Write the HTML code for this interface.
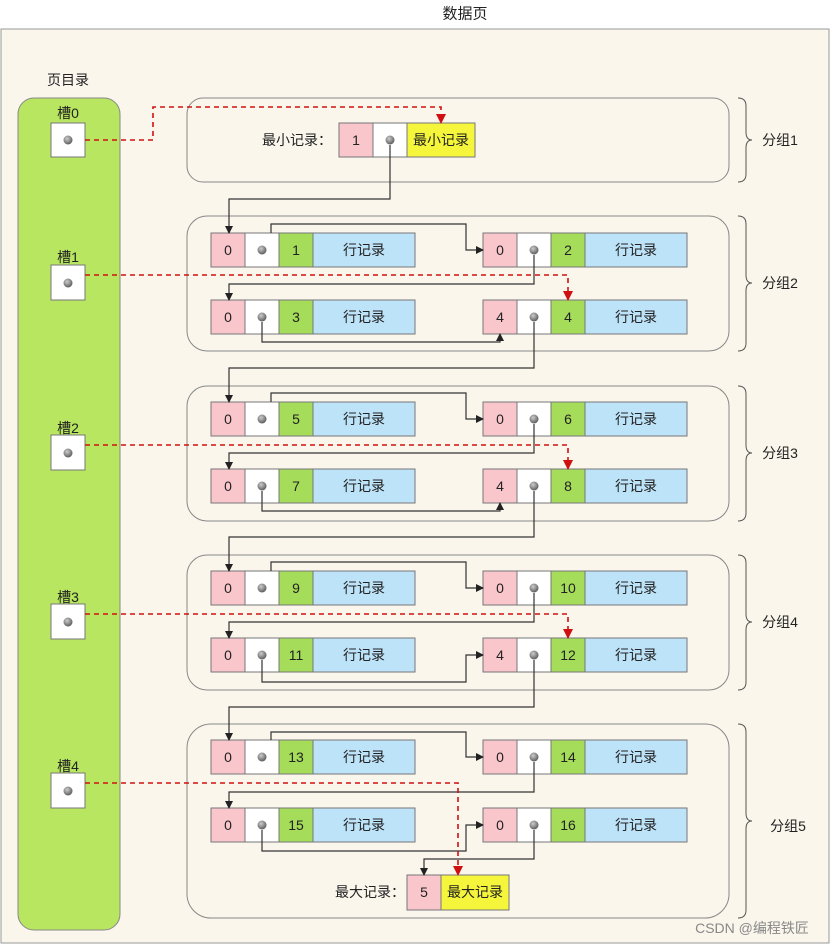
<!DOCTYPE html>
<html><head><meta charset="utf-8"><style>
html,body{margin:0;padding:0;background:#fff}
svg{display:block}
text{font-family:"Liberation Sans","Noto Sans CJK SC",sans-serif;font-size:14px;fill:#222}
.c{text-anchor:middle;dominant-baseline:central}
.k{fill:none;stroke:#333;stroke-width:1.2}
.r{fill:none;stroke:#d01010;stroke-width:1.6;stroke-dasharray:5 4}
.g{fill:#faf6ec;stroke:#888;stroke-width:1}
.p{fill:#f9c6cc;stroke:#777}
.w{fill:#fff;stroke:#777}
.gr{fill:#a5dc5a;stroke:#777}
.b{fill:#bde3f9;stroke:#777}
.y{fill:#f5f53c;stroke:#777}
</style></head><body>
<svg width="831" height="945" viewBox="0 0 831 945" xmlns="http://www.w3.org/2000/svg">
<defs>
<marker id="ak" markerWidth="8" markerHeight="8" refX="7" refY="4" orient="auto" markerUnits="userSpaceOnUse"><path d="M0,0 L8,4 L0,8 Z" fill="#222"/></marker>
<marker id="ar" markerWidth="10" markerHeight="10" refX="9" refY="5" orient="auto" markerUnits="userSpaceOnUse"><path d="M0,0 L10,5 L0,10 Z" fill="#d01010"/></marker>
<radialGradient id="dot" cx="0.4" cy="0.35" r="0.7"><stop offset="0" stop-color="#ccc"/><stop offset="1" stop-color="#555"/></radialGradient>
<g id="d"><circle r="4.5" fill="url(#dot)"/></g>
</defs>
<text x="465" y="14" class="c" style="font-size:15px">数据页</text>
<rect x="1" y="29" width="828" height="914" fill="#faf6ec" stroke="#999"/>
<text x="68" y="80" class="c">页目录</text>
<rect x="18" y="98" width="102" height="832" rx="16" fill="#b8e660" stroke="#888"/>
<text x="68" y="113" class="c">槽0</text><rect x="51" y="123" width="34" height="34" class="w"/><use href="#d" x="68" y="140"/>
<text x="68" y="257" class="c">槽1</text><rect x="51" y="265" width="34" height="35" class="w"/><use href="#d" x="68" y="283"/>
<text x="68" y="428" class="c">槽2</text><rect x="51" y="435" width="34" height="35" class="w"/><use href="#d" x="68" y="453"/>
<text x="68" y="597" class="c">槽3</text><rect x="51" y="604" width="34" height="35" class="w"/><use href="#d" x="68" y="622"/>
<text x="68" y="766" class="c">槽4</text><rect x="51" y="773" width="34" height="35" class="w"/><use href="#d" x="68" y="791"/>
<rect x="187" y="98" width="542" height="84" rx="16" class="g"/>
<rect x="187" y="216" width="542" height="135" rx="20" class="g"/>
<rect x="187" y="386" width="542" height="135" rx="20" class="g"/>
<rect x="187" y="555" width="542" height="135" rx="20" class="g"/>
<rect x="187" y="724" width="542" height="194" rx="24" class="g"/>
<g class="k" style="stroke:#555;stroke-width:1">
<path d="M738,98 Q746,98 746,106 V132 Q746,140 752,140 Q746,140 746,148 V174 Q746,182 738,182"/>
<path d="M738,216 Q746,216 746,224 V275 Q746,283 752,283 Q746,283 746,291 V343 Q746,351 738,351"/>
<path d="M738,386 Q746,386 746,394 V445 Q746,453 752,453 Q746,453 746,461 V513 Q746,521 738,521"/>
<path d="M738,555 Q746,555 746,563 V614 Q746,622 752,622 Q746,622 746,630 V682 Q746,690 738,690"/>
<path d="M738,724 Q746,724 746,732 V813 Q746,821 752,821 Q746,821 746,829 V910 Q746,918 738,918"/>
</g>
<text x="780" y="140" class="c">分组1</text>
<text x="780" y="283" class="c">分组2</text>
<text x="780" y="453" class="c">分组3</text>
<text x="780" y="622" class="c">分组4</text>
<text x="788" y="826" class="c">分组5</text>
<text x="297" y="140" class="c">最小记录：</text>
<rect x="339" y="123" width="34" height="34" class="p"/><text x="356" y="140" class="c">1</text>
<rect x="373" y="123" width="34" height="34" class="w"/><use href="#d" x="390" y="140"/>
<rect x="407" y="123" width="68" height="34" class="y"/><text x="441" y="140" class="c">最小记录</text>
<text x="370" y="892" class="c">最大记录：</text>
<rect x="407" y="875" width="34" height="35" class="p"/><text x="424" y="892" class="c">5</text>
<rect x="441" y="875" width="68" height="35" class="y"/><text x="475" y="892" class="c">最大记录</text>

<rect x="211" y="233" width="34" height="34" class="p"/><text x="228" y="250" class="c">0</text>
<rect x="245" y="233" width="34" height="34" class="w"/><use href="#d" x="262" y="250"/>
<rect x="279" y="233" width="34" height="34" class="gr"/><text x="296" y="250" class="c">1</text>
<rect x="313" y="233" width="102" height="34" class="b"/><text x="364" y="250" class="c">行记录</text>
<rect x="483" y="233" width="34" height="34" class="p"/><text x="500" y="250" class="c">0</text>
<rect x="517" y="233" width="34" height="34" class="w"/><use href="#d" x="534" y="250"/>
<rect x="551" y="233" width="34" height="34" class="gr"/><text x="568" y="250" class="c">2</text>
<rect x="585" y="233" width="102" height="34" class="b"/><text x="636" y="250" class="c">行记录</text>
<rect x="211" y="300" width="34" height="34" class="p"/><text x="228" y="317" class="c">0</text>
<rect x="245" y="300" width="34" height="34" class="w"/><use href="#d" x="262" y="317"/>
<rect x="279" y="300" width="34" height="34" class="gr"/><text x="296" y="317" class="c">3</text>
<rect x="313" y="300" width="102" height="34" class="b"/><text x="364" y="317" class="c">行记录</text>
<rect x="483" y="300" width="34" height="34" class="p"/><text x="500" y="317" class="c">4</text>
<rect x="517" y="300" width="34" height="34" class="w"/><use href="#d" x="534" y="317"/>
<rect x="551" y="300" width="34" height="34" class="gr"/><text x="568" y="317" class="c">4</text>
<rect x="585" y="300" width="102" height="34" class="b"/><text x="636" y="317" class="c">行记录</text>

<rect x="211" y="402" width="34" height="34" class="p"/><text x="228" y="419" class="c">0</text>
<rect x="245" y="402" width="34" height="34" class="w"/><use href="#d" x="262" y="419"/>
<rect x="279" y="402" width="34" height="34" class="gr"/><text x="296" y="419" class="c">5</text>
<rect x="313" y="402" width="102" height="34" class="b"/><text x="364" y="419" class="c">行记录</text>
<rect x="483" y="402" width="34" height="34" class="p"/><text x="500" y="419" class="c">0</text>
<rect x="517" y="402" width="34" height="34" class="w"/><use href="#d" x="534" y="419"/>
<rect x="551" y="402" width="34" height="34" class="gr"/><text x="568" y="419" class="c">6</text>
<rect x="585" y="402" width="102" height="34" class="b"/><text x="636" y="419" class="c">行记录</text>
<rect x="211" y="469" width="34" height="34" class="p"/><text x="228" y="486" class="c">0</text>
<rect x="245" y="469" width="34" height="34" class="w"/><use href="#d" x="262" y="486"/>
<rect x="279" y="469" width="34" height="34" class="gr"/><text x="296" y="486" class="c">7</text>
<rect x="313" y="469" width="102" height="34" class="b"/><text x="364" y="486" class="c">行记录</text>
<rect x="483" y="469" width="34" height="34" class="p"/><text x="500" y="486" class="c">4</text>
<rect x="517" y="469" width="34" height="34" class="w"/><use href="#d" x="534" y="486"/>
<rect x="551" y="469" width="34" height="34" class="gr"/><text x="568" y="486" class="c">8</text>
<rect x="585" y="469" width="102" height="34" class="b"/><text x="636" y="486" class="c">行记录</text>

<rect x="211" y="571" width="34" height="34" class="p"/><text x="228" y="588" class="c">0</text>
<rect x="245" y="571" width="34" height="34" class="w"/><use href="#d" x="262" y="588"/>
<rect x="279" y="571" width="34" height="34" class="gr"/><text x="296" y="588" class="c">9</text>
<rect x="313" y="571" width="102" height="34" class="b"/><text x="364" y="588" class="c">行记录</text>
<rect x="483" y="571" width="34" height="34" class="p"/><text x="500" y="588" class="c">0</text>
<rect x="517" y="571" width="34" height="34" class="w"/><use href="#d" x="534" y="588"/>
<rect x="551" y="571" width="34" height="34" class="gr"/><text x="568" y="588" class="c">10</text>
<rect x="585" y="571" width="102" height="34" class="b"/><text x="636" y="588" class="c">行记录</text>
<rect x="211" y="638" width="34" height="34" class="p"/><text x="228" y="655" class="c">0</text>
<rect x="245" y="638" width="34" height="34" class="w"/><use href="#d" x="262" y="655"/>
<rect x="279" y="638" width="34" height="34" class="gr"/><text x="296" y="655" class="c">11</text>
<rect x="313" y="638" width="102" height="34" class="b"/><text x="364" y="655" class="c">行记录</text>
<rect x="483" y="638" width="34" height="34" class="p"/><text x="500" y="655" class="c">4</text>
<rect x="517" y="638" width="34" height="34" class="w"/><use href="#d" x="534" y="655"/>
<rect x="551" y="638" width="34" height="34" class="gr"/><text x="568" y="655" class="c">12</text>
<rect x="585" y="638" width="102" height="34" class="b"/><text x="636" y="655" class="c">行记录</text>

<rect x="211" y="740" width="34" height="34" class="p"/><text x="228" y="757" class="c">0</text>
<rect x="245" y="740" width="34" height="34" class="w"/><use href="#d" x="262" y="757"/>
<rect x="279" y="740" width="34" height="34" class="gr"/><text x="296" y="757" class="c">13</text>
<rect x="313" y="740" width="102" height="34" class="b"/><text x="364" y="757" class="c">行记录</text>
<rect x="483" y="740" width="34" height="34" class="p"/><text x="500" y="757" class="c">0</text>
<rect x="517" y="740" width="34" height="34" class="w"/><use href="#d" x="534" y="757"/>
<rect x="551" y="740" width="34" height="34" class="gr"/><text x="568" y="757" class="c">14</text>
<rect x="585" y="740" width="102" height="34" class="b"/><text x="636" y="757" class="c">行记录</text>
<rect x="211" y="808" width="34" height="34" class="p"/><text x="228" y="825" class="c">0</text>
<rect x="245" y="808" width="34" height="34" class="w"/><use href="#d" x="262" y="825"/>
<rect x="279" y="808" width="34" height="34" class="gr"/><text x="296" y="825" class="c">15</text>
<rect x="313" y="808" width="102" height="34" class="b"/><text x="364" y="825" class="c">行记录</text>
<rect x="483" y="808" width="34" height="34" class="p"/><text x="500" y="825" class="c">0</text>
<rect x="517" y="808" width="34" height="34" class="w"/><use href="#d" x="534" y="825"/>
<rect x="551" y="808" width="34" height="34" class="gr"/><text x="568" y="825" class="c">16</text>
<rect x="585" y="808" width="102" height="34" class="b"/><text x="636" y="825" class="c">行记录</text>

<g class="k">
<path d="M390,145 V199 H229 V233" marker-end="url(#ak)"/>
<path d="M271,233 V224 H466 V250 H483" marker-end="url(#ak)"/>
<path d="M534,255 V284 H229 V300" marker-end="url(#ak)"/>
<path d="M262,322 V342 H500 V334" marker-end="url(#ak)"/>
<path d="M534,322 V368 H229 V402" marker-end="url(#ak)"/>
<path d="M271,402 V393 H466 V419 H483" marker-end="url(#ak)"/>
<path d="M534,424 V453 H229 V469" marker-end="url(#ak)"/>
<path d="M262,491 V511 H500 V503" marker-end="url(#ak)"/>
<path d="M534,491 V537 H229 V571" marker-end="url(#ak)"/>
<path d="M271,571 V562 H466 V588 H483" marker-end="url(#ak)"/>
<path d="M534,593 V622 H229 V638" marker-end="url(#ak)"/>
<path d="M262,660 V682 H466 V655 H483" marker-end="url(#ak)"/>
<path d="M534,660 V707 H229 V740" marker-end="url(#ak)"/>
<path d="M271,740 V732 H466 V757 H483" marker-end="url(#ak)"/>
<path d="M534,762 V792 H229 V808" marker-end="url(#ak)"/>
<path d="M262,830 V851 H466 V825 H483" marker-end="url(#ak)"/>
<path d="M534,830 V859 H424 V875" marker-end="url(#ak)"/>
</g>
<path class="r" d="M85,140 H153 V107 H441 V123" marker-end="url(#ar)"/>
<path class="r" d="M85,275 H568 V300" marker-end="url(#ar)"/>
<path class="r" d="M85,445 H568 V469" marker-end="url(#ar)"/>
<path class="r" d="M85,614 H568 V638" marker-end="url(#ar)"/>
<path class="r" d="M85,783 H458 V875" marker-end="url(#ar)"/>
<text x="752" y="928" class="c" style="font-size:14px;fill:#888">CSDN @编程铁匠</text>
</svg>
</body></html>
